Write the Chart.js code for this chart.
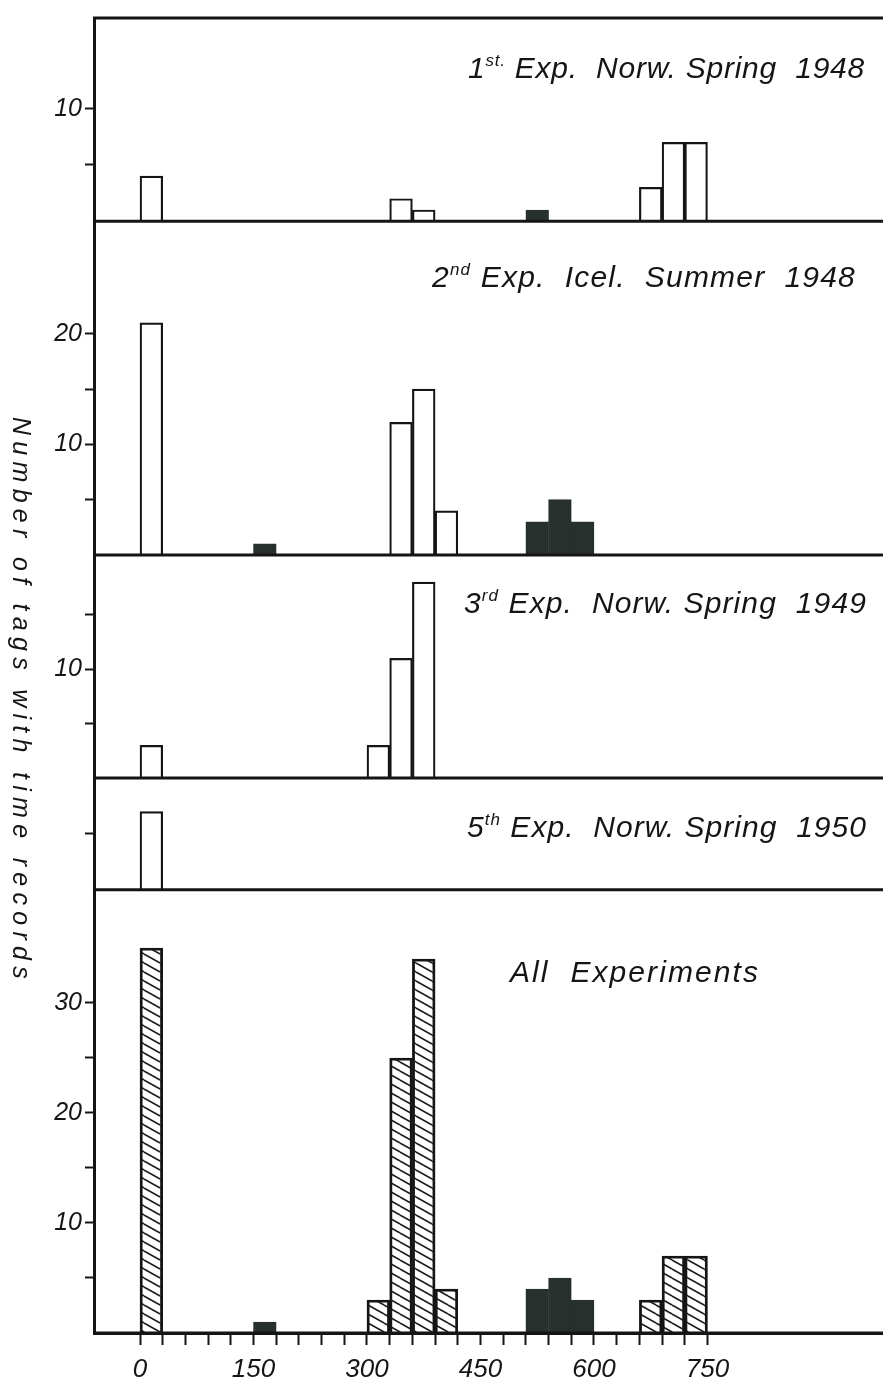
<!DOCTYPE html>
<html>
<head>
<meta charset="utf-8">
<title>Tags with time records</title>
<script src="https://cdn.jsdelivr.net/npm/chart.js@4.4.1/dist/chart.umd.min.js"></script>
<style>
    html, body { margin: 0; padding: 0; background: #ffffff; }
    #chart { display: block; }
</style>
</head>
<body>
<canvas id="chart" width="883" height="1382"></canvas>
<script>
    "use strict";

    // bins are 30 units wide, values are bin centres
    const binWidth = 30;
    const binCentres = [15, 165, 315, 345, 375, 405, 525, 555, 585, 675, 705, 735];
    const xTickLabels = [0, 150, 300, 450, 600, 750];

    const exp1Open = [4, 0, 0, 2, 1, 0, 0, 0, 0, 3, 7, 7];
    const exp1Dark = [0, 0, 0, 0, 0, 0, 1, 0, 0, 0, 0, 0];
    const exp2Open = [21, 0, 0, 12, 15, 4, 0, 0, 0, 0, 0, 0];
    const exp2Dark = [0, 1, 0, 0, 0, 0, 3, 5, 3, 0, 0, 0];
    const exp3Open = [3, 0, 3, 11, 18, 0, 0, 0, 0, 0, 0, 0];
    const exp3Dark = [0, 0, 0, 0, 0, 0, 0, 0, 0, 0, 0, 0];
    const exp5Open = [7, 0, 0, 0, 0, 0, 0, 0, 0, 0, 0, 0];
    const exp5Dark = [0, 0, 0, 0, 0, 0, 0, 0, 0, 0, 0, 0];
    const allOpen = [35, 0, 3, 25, 34, 4, 0, 0, 0, 3, 7, 7];
    const allDark = [0, 1, 0, 0, 0, 0, 4, 5, 3, 0, 0, 0];

    const panelTitles = [
        ['1', 'st.', ' Exp.  Norw. Spring  1948'],
        ['2', 'nd', ' Exp.  Icel.  Summer  1948'],
        ['3', 'rd', ' Exp.  Norw. Spring  1949'],
        ['5', 'th', ' Exp.  Norw. Spring  1950'],
        ['', '', 'All  Experiments']
    ];
    const panelTicks = [[5, 10], [5, 10, 15, 20], [5, 10, 15], [5], [5, 10, 15, 20, 25, 30]];
    const panelTickLabels = [[10], [10, 20], [10], [], [10, 20, 30]];
    const yTitle = 'Number of tags with time records';

    // layout of the panels (top to bottom)
    const panelIds = ['y1', 'y2', 'y3', 'y5', 'yAll'];
    const panelHeights = [204, 335, 224, 112, 445];
    const panelMax = [18.05, 30.2, 20.5, 10.0, 40.3];
    const titleBox = [
        {left: 468, right: 865, dy: 60},
        {left: 432, right: 856, dy: 66},
        {left: 464, right: 867, dy: 58},
        {left: 467, right: 867, dy: 59},
        {left: 510, right: 760, dy: 92}
    ];

    const ink = '#151515';
    const darkFill = '#27302d';
    const labelFont = '"Liberation Sans", "DejaVu Sans", sans-serif';

    let ctx = document.getElementById('chart').getContext('2d');

    function makeHatch() {
        let tile = document.createElement('canvas');
        tile.width = 16;
        tile.height = 9;
        let g = tile.getContext('2d');
        g.strokeStyle = '#1c1c1c';
        g.lineWidth = 1.6;
        [-9, 0, 9].forEach(off => {
            g.beginPath();
            g.moveTo(0, off);
            g.lineTo(16, off + 9);
            g.stroke();
        });
        return ctx.createPattern(tile, 'repeat');
    }

    function toPoints(values) {
        let pts = [];
        values.forEach((v, i) => {
            if (v > 0) pts.push({x: binCentres[i], y: v});
        });
        return pts;
    }

    const hatch = makeHatch();
    const openSeries = [exp1Open, exp2Open, exp3Open, exp5Open, allOpen];
    const darkSeries = [exp1Dark, exp2Dark, exp3Dark, exp5Dark, allDark];

    let datasets = [];
    panelIds.forEach((id, i) => {
        datasets.push({
            label: id + ' open',
            data: toPoints(openSeries[i]),
            yAxisID: id,
            backgroundColor: id === 'yAll' ? hatch : '#ffffff',
            borderColor: ink,
            borderWidth: 2.2
        });
        datasets.push({
            label: id + ' dark',
            data: toPoints(darkSeries[i]),
            yAxisID: id,
            backgroundColor: darkFill,
            borderColor: darkFill,
            borderWidth: 2
        });
    });

    let xTicks = [];
    for (let v = 0; v <= xTickLabels[xTickLabels.length - 1]; v += binWidth) xTicks.push(v);

    let scales = {
        x: {
            type: 'linear',
            min: -60.8,
            max: 982,
            offset: false,
            afterBuildTicks: scale => { scale.ticks = xTicks.map(v => ({value: v})); },
            afterFit: scale => { scale.height = 49; },
            border: {display: true, color: ink, width: 3},
            grid: {offset: false, drawOnChartArea: false, drawTicks: true, tickLength: 12, tickWidth: 2, tickColor: ink},
            ticks: {
                padding: 9,
                maxRotation: 0,
                autoSkip: false,
                color: ink,
                font: {family: labelFont, size: 26, style: 'italic'},
                callback: value => xTickLabels.includes(value) ? String(value) : ''
            }
        }
    };

    panelIds.forEach((id, i) => {
        scales[id] = {
            type: 'linear',
            position: 'left',
            stack: 'panels',
            stackWeight: panelHeights[i],
            weight: panelIds.length - i,
            min: 0,
            max: panelMax[i],
            afterBuildTicks: scale => { scale.ticks = panelTicks[i].map(v => ({value: v})); },
            afterFit: scale => { scale.width = 94; },
            border: {display: true, color: ink, width: 3},
            grid: {offset: false, drawOnChartArea: false, drawTicks: true, tickLength: 9, tickWidth: 2, tickColor: ink},
            ticks: {
                padding: 3,
                color: ink,
                font: {family: labelFont, size: 25, style: 'italic'},
                callback: value => panelTickLabels[i].includes(value) ? String(value) : ''
            }
        };
    });

    function drawTitle(c, parts, box, baseline) {
        let big = 'italic 30px ' + labelFont;
        let small = 'italic 17px ' + labelFont;
        c.letterSpacing = '0px';
        c.font = big;
        let wLead = c.measureText(parts[0]).width;
        let wRest = c.measureText(parts[2]).width;
        c.font = small;
        let wSup = c.measureText(parts[1]).width;
        let n = parts[0].length + parts[1].length + parts[2].length;
        let extra = Math.max(0, (box.right - box.left - wLead - wSup - wRest) / n);
        c.letterSpacing = extra + 'px';
        let x = box.left;
        c.font = big;
        c.fillText(parts[0], x, baseline);
        x += wLead + extra * parts[0].length;
        c.font = small;
        c.fillText(parts[1], x, baseline - 12);
        x += wSup + extra * parts[1].length;
        c.font = big;
        c.fillText(parts[2], x, baseline);
    }

    const panelDecor = {
        id: 'panelDecor',
        afterDatasetsDraw(chart) {
            let c = chart.ctx;
            let area = chart.chartArea;
            c.save();
            c.strokeStyle = ink;
            c.lineWidth = 3;
            c.beginPath();
            c.moveTo(area.left - 1, area.top);
            c.lineTo(area.right, area.top);
            panelIds.forEach(id => {
                let y = chart.scales[id].getPixelForValue(0);
                c.moveTo(area.left - 1, y);
                c.lineTo(area.right, y);
            });
            c.stroke();

            c.fillStyle = ink;
            c.textAlign = 'left';
            c.textBaseline = 'alphabetic';
            panelIds.forEach((id, i) => {
                drawTitle(c, panelTitles[i], titleBox[i], chart.scales[id].top + titleBox[i].dy);
            });

            // rotated axis title, reads top to bottom
            c.font = 'italic 25px ' + labelFont;
            c.letterSpacing = '0px';
            let w = c.measureText(yTitle).width;
            let spacing = Math.max(0, (568 - w) / yTitle.length);
            c.letterSpacing = spacing + 'px';
            c.translate(20, 417);
            c.rotate(Math.PI / 2);
            c.textBaseline = 'middle';
            c.fillText(yTitle, 0, 0);
            c.restore();
        }
    };

    let tagsChart = new Chart(ctx, {
        type: 'bar',
        data: {datasets: datasets},
        options: {
            responsive: false,
            animation: false,
            devicePixelRatio: 1,
            layout: {padding: {top: 13, right: 0, bottom: 0, left: 0}},
            datasets: {
                bar: {
                    grouped: false,
                    barPercentage: 1,
                    categoryPercentage: 1,
                    borderSkipped: 'start'
                }
            },
            plugins: {
                legend: {display: false},
                tooltip: {enabled: false},
                title: {display: false}
            },
            scales: scales
        },
        plugins: [panelDecor]
    });
</script>
</body>
</html>
